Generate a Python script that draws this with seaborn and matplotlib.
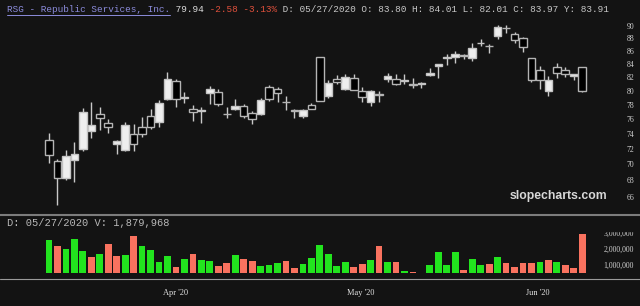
import matplotlib
matplotlib.use("Agg")
import matplotlib.pyplot as plt
import seaborn as sns
import numpy as np
import pandas as pd
from matplotlib.ticker import FixedLocator, FuncFormatter, NullLocator
from matplotlib.lines import Line2D
from matplotlib.patches import Rectangle

# ---------------- data ----------------
opens = [73.21, 70.38, 68.28, 70.59, 72.02, 74.33, 76.76, 75.45, 72.68, 71.80,
         74.02, 74.91, 76.42, 75.59, 78.89, 81.45, 79.03, 77.46, 77.12, 79.69,
         79.83, 76.76, 77.46, 77.79, 76.84, 76.66, 80.56, 80.27, 78.45, 77.25,
         76.42, 77.93, 85.11, 79.26, 81.80, 80.33, 81.90, 79.94, 78.40, 79.50,
         81.70, 81.80, 81.45, 80.96, 80.96, 82.30, 83.70, 84.98, 85.11, 85.37,
         84.95, 87.25, 86.83, 88.37, 89.62, 88.70, 88.00, 84.85, 83.05, 79.98,
         83.55, 83.05, 82.19, 83.55]
highs = [74.10, 70.70, 71.89, 72.89, 77.55, 78.40, 77.69, 76.06, 73.20, 75.59,
         75.37, 76.28, 77.46, 78.64, 82.80, 81.80, 79.83, 78.03, 77.69, 80.71,
         80.23, 77.75, 78.89, 78.17, 77.12, 79.03, 80.81, 80.56, 79.22, 77.46,
         77.46, 78.32, 85.11, 81.65, 82.30, 82.55, 82.45, 80.56, 80.08, 79.98,
         82.70, 82.45, 82.55, 81.95, 81.30, 83.40, 83.92, 85.48, 86.04, 85.48,
         87.21, 87.84, 87.10, 90.16, 90.16, 89.07, 88.25, 84.95, 83.66, 82.15,
         84.17, 83.55, 82.55, 83.55]
lows = [70.16, 65.02, 68.00, 67.79, 71.67, 73.43, 74.56, 74.10, 71.28, 71.67,
        71.67, 73.56, 74.69, 74.91, 78.64, 77.69, 78.26, 75.73, 75.45, 78.17,
        77.79, 76.10, 77.22, 76.20, 75.37, 76.52, 78.50, 78.40, 77.22, 76.20,
        76.20, 77.46, 78.50, 79.03, 81.06, 80.08, 80.08, 78.40, 77.79, 78.40,
        81.30, 80.81, 81.06, 80.47, 80.47, 82.15, 81.95, 83.81, 84.17, 84.70,
        84.48, 86.78, 85.63, 87.84, 88.91, 87.21, 85.79, 81.30, 80.23, 79.22,
        81.95, 82.04, 81.55, 79.83]
closes = [71.15, 68.28, 71.06, 71.37, 76.98, 75.24, 76.20, 74.91, 72.99, 75.24,
          72.59, 74.02, 74.91, 78.26, 81.80, 78.89, 79.12, 76.98, 77.32, 80.23,
          78.17, 76.66, 77.83, 76.42, 76.06, 78.64, 78.89, 79.75, 78.40, 77.08,
          77.22, 77.46, 78.50, 81.21, 81.30, 82.04, 80.18, 79.12, 79.94, 79.46,
          82.15, 80.96, 81.65, 80.92, 81.15, 82.70, 83.92, 85.01, 85.48, 85.15,
          86.51, 87.30, 86.80, 89.79, 89.58, 87.73, 86.57, 81.55, 81.65, 81.55,
          82.70, 82.55, 82.52, 79.94]
volumes = [2540000, 2180000, 1980000, 2620000, 1850000, 1520000, 1690000, 2320000, 1550000, 1610000,
           2800000, 2160000, 1930000, 1220000, 1570000, 880000, 1400000, 1670000, 1320000, 1260000,
           960000, 1140000, 1650000, 1370000, 1260000, 940000, 1040000, 1160000, 1260000, 840000,
           1100000, 1460000, 2240000, 1670000, 980000, 1200000, 900000, 1100000, 1340000, 2200000,
           1220000, 1180000, 670000, 610000, 550000, 1020000, 1790000, 1040000, 1790000, 730000,
           1370000, 1020000, 1060000, 1520000, 1140000, 900000, 1160000, 1140000, 1220000, 1320000,
           1200000, 1020000, 840000, 2890000]
month_labels = ["Apr '20", "May '20", "Jun '20"]
month_positions = [14.9, 36.8, 57.7]
price_ticks = [66, 68, 70, 72, 74, 76, 78, 80, 82, 84, 86, 88, 90]
volume_ticks = [1000000, 2000000, 3000000]

header_name = "RSG - Republic Services, Inc."
header_last = "79.94"
header_change = "-2.58 -3.13%"
header_ohlc = "D: 05/27/2020 O: 83.80 H: 84.01 L: 82.01 C: 83.97 Y: 83.91"
volume_header = "D: 05/27/2020 V: 1,879,968"
watermark = "slopecharts.com"

# ---------------- style ----------------
BG = "#131313"
GREEN = "#22e41e"
RED = "#f9725f"
sns.set_theme(style="dark")
plt.rcParams["font.family"] = ["DejaVu Sans"]

W, H = 640, 306
fig = plt.figure(figsize=(W / 100, H / 100), dpi=100, facecolor=BG)


def px_rect(x0, y0, x1, y1):
    return [x0 / W, 1 - y1 / H, (x1 - x0) / W, (y1 - y0) / H]


axp = fig.add_axes(px_rect(0, 18, 600, 214))
axv = fig.add_axes(px_rect(0, 216, 600, 273.3))
for ax in (axp, axv):
    ax.set_facecolor(BG)
    for s in ax.spines.values():
        s.set_visible(False)
    ax.grid(False)

# ---------------- candlesticks ----------------
df = pd.DataFrame({"idx": np.arange(len(closes)), "open": opens, "high": highs,
                   "low": lows, "close": closes, "volume": volumes})
df["rising"] = df["close"] >= df["open"]
prev = df["close"].shift(1)
df["dir"] = np.where(prev.isna() | (df["close"] >= prev), "up", "down")

axp.vlines(df["idx"], df["low"], df["high"], color="#c8c8c8", lw=1.0, zorder=1)
upd = df[df["rising"]]
dnd = df[~df["rising"]]
axp.bar(upd["idx"], upd["close"] - upd["open"], bottom=upd["open"], width=0.9,
        color="#eeeeee", edgecolor="#c4c4c4", linewidth=1.0, zorder=2)
axp.bar(dnd["idx"], dnd["open"] - dnd["close"], bottom=dnd["close"], width=0.9,
        color="#000000", edgecolor="#b4b4b4", linewidth=1.0, zorder=2)
axp.set_yscale("log")
axp.set_ylim(63.98, 91.3)
axp.set_xlim(-5.79, 65.1)
axp.yaxis.set_major_locator(FixedLocator(price_ticks))
axp.yaxis.set_minor_locator(NullLocator())
axp.yaxis.set_major_formatter(FuncFormatter(lambda v, p: f"{v:.0f}"))
axp.yaxis.tick_right()
axp.tick_params(axis="y", length=0, pad=24.5, labelsize=5.6, labelcolor="#d0d0d0")
axp.set_xticks([])
for t in axp.yaxis.get_major_ticks():
    t.label2.set_ha("right")
    t.label2.set_fontfamily("Liberation Serif")

# ---------------- volume ----------------
sns.barplot(data=df, x="idx", y="volume", hue="dir", palette={"up": GREEN, "down": RED},
            native_scale=True, dodge=False, width=0.8, errorbar=None, legend=False,
            saturation=1, ax=axv, linewidth=0)
axv.set_xlim(-5.79, 65.1)
axv.set_ylim(512000, 4000000)
axv.set_xlabel("")
axv.set_ylabel("")
axv.yaxis.set_major_locator(FixedLocator(volume_ticks))
axv.yaxis.set_major_formatter(FuncFormatter(lambda v, p: f"{v:,.0f}"))
axv.yaxis.tick_right()
axv.tick_params(axis="y", length=0, pad=24.5, labelsize=5.6, labelcolor="#d0d0d0")
for t in axv.yaxis.get_major_ticks():
    t.label2.set_ha("right")
    t.label2.set_fontfamily("Liberation Serif")
axv.set_xticks(month_positions, month_labels)
axv.tick_params(axis="x", length=0, pad=11, labelsize=6, labelcolor="#e0e0e0")
for lbl in axv.get_xticklabels():
    lbl.set_fontfamily("Liberation Serif")

# ---------------- separators / decorations ----------------
fig.add_artist(Rectangle((600 / W, 1 - 231 / H), 40 / W, 14.5 / H,
                         transform=fig.transFigure, color=BG, zorder=5))
fig.add_artist(Line2D([0, 1], [1 - 215 / H] * 2, transform=fig.transFigure,
                      color="#7c7c7c", lw=1.5, zorder=6))
fig.add_artist(Line2D([0, 1], [1 - 279 / H] * 2, transform=fig.transFigure,
                      color="#9a9a9a", lw=0.8, zorder=6))

# header
mono = "Liberation Mono"
fs = 6.75
cw = fs * 100 / 72 * 0.6  # px per character
x0 = 7
pieces = [(header_name, "#8c8cdc"), (" " + header_last, "#dcdcdc"),
          (" " + header_change, "#e0503c"), (" " + header_ohlc, "#c8c8c8")]
n = 0
for txt, col in pieces:
    fig.text((x0 + n * cw) / W, 1 - 9 / H, txt, color=col, fontsize=fs,
             family=mono, va="center", ha="left")
    n += len(txt)
fig.add_artist(Line2D([x0 / W, (x0 + len(header_name) * cw) / W], [1 - 14.5 / H] * 2,
                      transform=fig.transFigure, color="#8c8cdc", lw=0.7))

fig.text(7 / W, 1 - 223 / H, volume_header, color="#b8b8b8", fontsize=7.5,
         family=mono, va="center", ha="left", zorder=7)

fig.text(558 / W, 1 - 196 / H, watermark, color="#d8d8d8", fontsize=8.8,
         fontweight="bold", family="Liberation Sans", va="center", ha="center")

fig.savefig("out.png", dpi=100, facecolor=BG)
